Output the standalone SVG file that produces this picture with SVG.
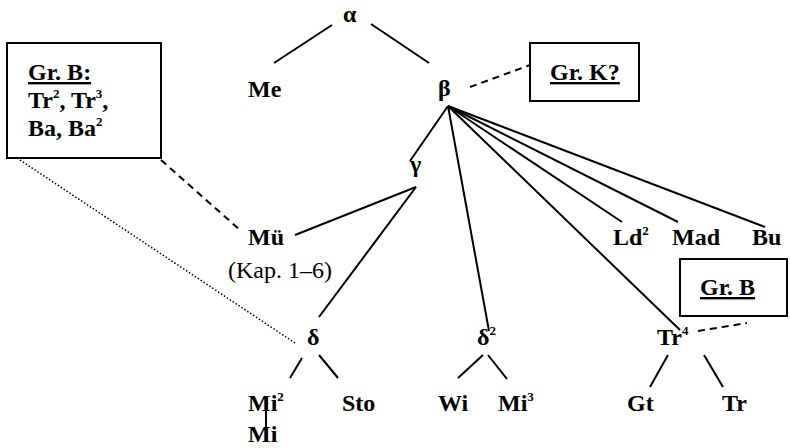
<svg xmlns="http://www.w3.org/2000/svg" width="790" height="448" viewBox="0 0 790 448">
<style>
text{font-family:'Liberation Serif','Times New Roman','DejaVu Serif','Noto Serif',serif;font-size:24px;font-weight:bold;fill:#000}
.sup{font-size:13px}
.n{font-weight:normal}
.u{text-decoration:underline}
.l{stroke:#000;stroke-width:2;fill:none}
.d{stroke:#000;stroke-width:2;fill:none;stroke-dasharray:7 5}
.dt{stroke:#000;stroke-width:1.5;fill:none;stroke-dasharray:1.5 2}
.box{fill:#fff;stroke:#000;stroke-width:2}
</style>
<rect width="790" height="448" fill="#fff"/>
<g id="connectors">
<line class="l" x1="332" y1="25" x2="274" y2="63"/>
<line class="l" x1="371" y1="24" x2="429" y2="63"/>
<line class="d" x1="470" y1="87" x2="530" y2="65"/>
<line class="l" x1="448" y1="106" x2="410" y2="161"/>
<line class="l" x1="448" y1="106" x2="489" y2="331"/>
<line class="l" x1="448" y1="106" x2="680" y2="330"/>
<line class="l" x1="448" y1="106" x2="622" y2="222"/>
<line class="l" x1="448" y1="106" x2="678" y2="222"/>
<line class="l" x1="448" y1="106" x2="765" y2="227"/>
<line class="l" x1="416" y1="187" x2="295" y2="235"/>
<line class="l" x1="416" y1="187" x2="319" y2="317"/>
<line class="d" x1="152" y1="152" x2="240" y2="230"/>
<line class="dt" x1="17" y1="158" x2="295" y2="343"/>
<line class="l" x1="302" y1="358" x2="290" y2="378"/>
<line class="l" x1="319" y1="355" x2="338" y2="378"/>
<line class="l" x1="266" y1="410" x2="266" y2="431"/>
<line class="l" x1="483" y1="355" x2="458" y2="378"/>
<line class="l" x1="488" y1="355" x2="507" y2="379"/>
<line class="l" x1="668" y1="355" x2="650" y2="387"/>
<line class="l" x1="704" y1="355" x2="723" y2="387"/>
<line class="d" x1="698" y1="331" x2="747" y2="323"/>
</g>
<g id="alpha"><text x="343" y="22">α</text></g>
<g id="Me"><text x="248" y="97">Me</text></g>
<g id="beta"><text x="438" y="96">β</text></g>
<g id="grK"><rect class="box" x="530" y="43" width="109" height="58"/><text class="u" x="550" y="80">Gr. K?</text></g>
<g id="grB1"><rect class="box" x="7" y="43" width="154" height="115"/>
<text class="u" x="28" y="80">Gr. B:</text>
<text x="28" y="108">Tr<tspan class="sup" dy="-10">2</tspan><tspan dy="10">, Tr</tspan><tspan class="sup" dy="-10">3</tspan><tspan dy="10">,</tspan></text>
<text x="28" y="136">Ba, Ba<tspan class="sup" dy="-10">2</tspan></text>
</g>
<g id="gamma"><text x="410" y="172">γ</text></g>
<g id="Mu"><text x="248" y="245">Mü</text><text class="n" x="228" y="278">(Kap. 1–6)</text></g>
<g id="Ld2"><text x="613" y="245">Ld<tspan class="sup" dy="-10">2</tspan></text></g>
<g id="Mad"><text x="672" y="245">Mad</text></g>
<g id="Bu"><text x="752" y="245">Bu</text></g>
<g id="grB2"><rect class="box" x="680" y="259" width="107" height="57"/><text class="u" x="700" y="295">Gr. B</text></g>
<g id="delta"><text x="307" y="345">δ</text></g>
<g id="delta2"><text x="477" y="345">δ<tspan class="sup" dy="-10">2</tspan></text></g>
<g id="Tr4"><text x="657" y="345">Tr<tspan class="sup" dy="-10">4</tspan></text></g>
<g id="Mi2"><text x="248" y="411">Mi<tspan class="sup" dy="-10">2</tspan></text></g>
<g id="Sto"><text x="342" y="411">Sto</text></g>
<g id="Wi"><text x="438" y="411">Wi</text></g>
<g id="Mi3"><text x="498" y="411">Mi<tspan class="sup" dy="-10">3</tspan></text></g>
<g id="Gt"><text x="627" y="411">Gt</text></g>
<g id="Tr"><text x="722" y="411">Tr</text></g>
<g id="Mi"><text x="248" y="442">Mi</text></g>
</svg>
